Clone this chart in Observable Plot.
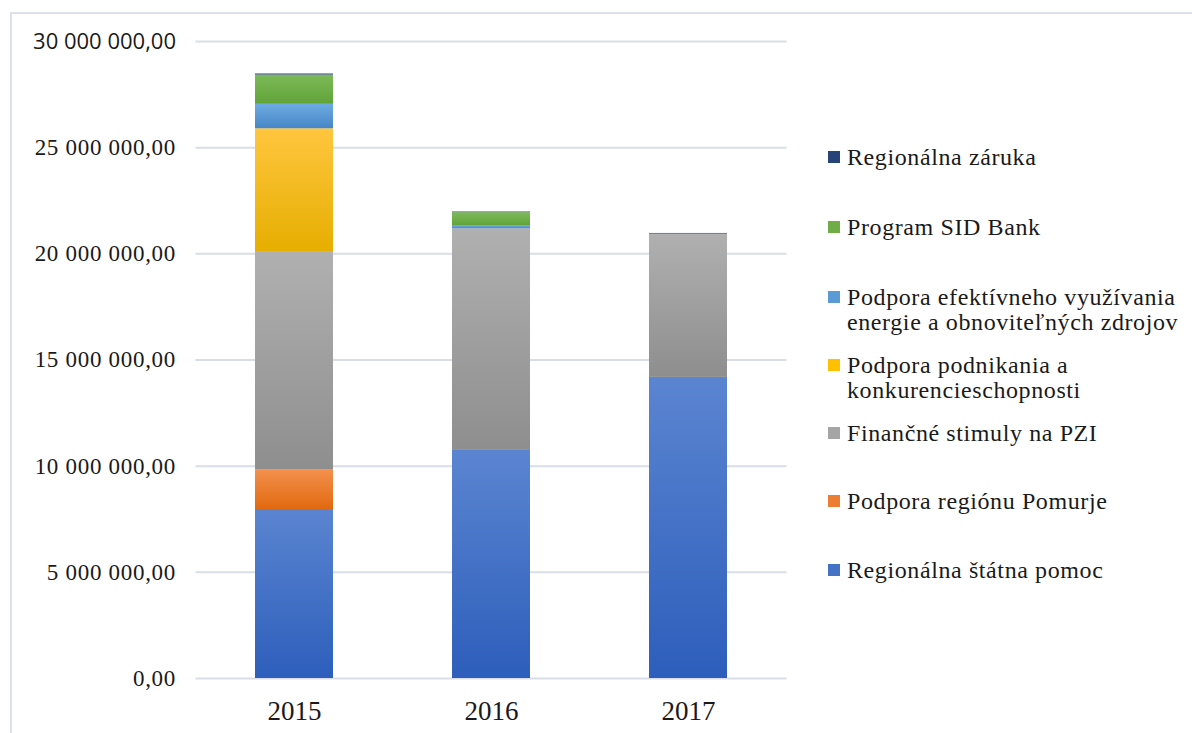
<!DOCTYPE html>
<html>
<head>
<meta charset="utf-8">
<script src="https://cdn.jsdelivr.net/npm/d3@7"></script>
<script src="https://cdn.jsdelivr.net/npm/@observablehq/plot@0.6"></script>
<style>
  html, body { margin: 0; padding: 0; background: #fff; }
  #wrap { position: relative; width: 1192px; height: 733px; overflow: hidden; }
  #frame { position: absolute; left: 10px; top: 12px; width: 1200px; height: 740px;
           border-left: 2px solid #dde1e9; border-top: 2px solid #dde1e9; box-sizing: border-box; }
  #chart { position: absolute; left: 0; top: 0; }
  #legend { position: absolute; left: 828px; top: 0; font-family: "Liberation Serif", "DejaVu Serif", serif;
            font-size: 24px; letter-spacing: 0.6px; color: #1a1a1a; }
  .item { position: absolute; left: 0; white-space: nowrap; line-height: 25px; }
  .sw { position: absolute; left: 0; width: 12px; height: 12px; }
  .lab { position: absolute; left: 19px; }
</style>
</head>
<body>
<svg width="0" height="0" style="position:absolute">
  <defs id="gdefs"></defs>
</svg>
<div id="wrap">
  <div id="frame"></div>
  <div id="chart"></div>
  <div id="legend"></div>
</div>
<script>
// ---- data ----
const years = ["2015", "2016", "2017"];
const seriesNames = [
  "Regionálna štátna pomoc",
  "Podpora regiónu Pomurje",
  "Finančné stimuly na PZI",
  "Podpora podnikania a konkurencieschopnosti",
  "Podpora efektívneho využívania energie a obnoviteľných zdrojov",
  "Program SID Bank",
  "Regionálna záruka"
];
const regionalnaStatnaPomoc = [7960000, 10740000, 14180000];
const podporaPomurje = [1880000, 0, 0];
const financneStimulyPZI = [10230000, 10440000, 6750000];
const podporaPodnikania = [5820000, 0, 0];
const podporaEfektivneho = [1150000, 120000, 0];
const programSIDBank = [1380000, 640000, 0];
const regionalnaZaruka = [50000, 30000, 30000];
const yTicks = [0, 5000000, 10000000, 15000000, 20000000, 25000000, 30000000];

const seriesValues = [regionalnaStatnaPomoc, podporaPomurje, financneStimulyPZI,
  podporaPodnikania, podporaEfektivneho, programSIDBank, regionalnaZaruka];

// colors: [top, bottom] gradients and flat legend colors
const gradColors = [
  ["#5b85d1", "#2d5ebb"],
  ["#f4914e", "#e1690f"],
  ["#b0b0b0", "#8e8e8e"],
  ["#ffc63f", "#e6ae00"],
  ["#6eabe2", "#4786c6"],
  ["#7dba59", "#60a238"],
  ["#2c4c84", "#22406f"]
];
const flatColors = ["#4472C4", "#ED7D31", "#A5A5A5", "#FFC000", "#5B9BD5", "#70AD47", "#264478"];

// gradients
const defs = document.getElementById("gdefs");
gradColors.forEach(([a, b], i) => {
  defs.insertAdjacentHTML("beforeend",
    `<linearGradient id="g${i}" x1="0" y1="0" x2="0" y2="1">
       <stop offset="0" stop-color="${a}"/><stop offset="1" stop-color="${b}"/>
     </linearGradient>`);
});

const data = [];
seriesNames.forEach((s, i) => {
  years.forEach((y, j) => {
    if (seriesValues[i][j] > 0) data.push({year: y, series: s, value: seriesValues[i][j]});
  });
});

const locale = d3.formatLocale({decimal: ",", thousands: " ", grouping: [3], currency: ["", ""]});
const fmt = locale.format(",.2f");

const chart = Plot.plot({
  width: 800,
  height: 733,
  marginTop: 41,
  marginBottom: 55,
  marginLeft: 195.5,
  marginRight: 13.5,
  style: {fontFamily: "'Liberation Serif', 'DejaVu Serif', serif", fontSize: "22px", color: "#1a1a1a", background: "transparent"},
  x: {domain: years, paddingInner: 0.604, paddingOuter: 0.302, label: null},
  y: {domain: [0, 30000000], label: null},
  color: {domain: seriesNames, range: seriesNames.map((_, i) => `url(#g${i})`)},
  marks: [
    Plot.gridY(yTicks, {stroke: "#d9dde6", strokeOpacity: 1, strokeWidth: 2}),
    Plot.barY(data, {x: "year", y: "value", fill: "series", order: seriesNames, z: "series"}),
    Plot.axisX({tickSize: 0, tickPadding: 22, fontSize: 27, label: null}),
    Plot.axisY({ticks: yTicks, tickFormat: fmt, tickSize: 0, tickPadding: 20, fontSize: 23, label: null})
  ]
});
document.getElementById("chart").appendChild(chart);

// letter spacing for y tick labels; top tick label rendered in sans like the reference
d3.select(chart).selectAll("text").each(function() {
  const t = this.textContent;
  if (t === fmt(30000000)) {
    d3.select(this).attr("font-family", "Open Sans, sans-serif").attr("font-size", 22);
  } else if (t.includes(",")) {
    d3.select(this).attr("letter-spacing", 0.7);
  }
});

// legend (top to bottom)
const legendOrder = [6, 5, 4, 3, 2, 1, 0];
const legendLines = {
  4: ["Podpora efektívneho využívania", "energie a obnoviteľných zdrojov"],
  3: ["Podpora podnikania a", "konkurencieschopnosti"]
};
const legendY = [157, 227, 297, 365, 433, 501, 570];
const leg = document.getElementById("legend");
legendOrder.forEach((si, k) => {
  const lines = legendLines[si] || [seriesNames[si]];
  const cy = legendY[k];
  const item = document.createElement("div");
  item.className = "item";
  item.style.top = (cy - 12.5) + "px";
  item.innerHTML = `<div class="sw" style="top:6.5px;background:${flatColors[si]}"></div>` +
    `<div class="lab">${lines.join("<br>")}</div>`;
  leg.appendChild(item);
});
</script>
</body>
</html>
